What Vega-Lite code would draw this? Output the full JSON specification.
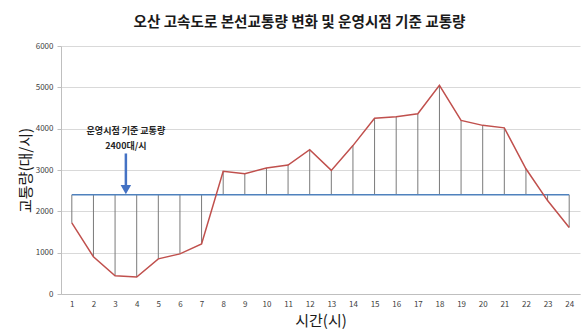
{
  "$schema": "https://vega.github.io/schema/vega-lite/v6.json",
  "width": 519,
  "height": 248,
  "autosize": {"type": "none"},
  "padding": {"left": 61, "top": 46, "right": 7, "bottom": 38},
  "background": "white",
  "title": {
    "text": "오산 고속도로 본선교통량 변화 및 운영시점 기준 교통량",
    "font": "Noto Sans CJK KR",
    "fontSize": 14.6,
    "fontWeight": "bold",
    "color": "#1a1a1a",
    "anchor": "middle",
    "dx": -21,
    "offset": 12
  },
  "config": {
    "font": "Noto Sans CJK KR",
    "view": {"stroke": null},
    "axis": {"labelOverlap": false, "labelFlush": false}
  },
  "datasets": {
    "traffic": [
      {"hour": 1, "volume": 1720},
      {"hour": 2, "volume": 900},
      {"hour": 3, "volume": 440},
      {"hour": 4, "volume": 410},
      {"hour": 5, "volume": 850},
      {"hour": 6, "volume": 970},
      {"hour": 7, "volume": 1210},
      {"hour": 8, "volume": 2970},
      {"hour": 9, "volume": 2910},
      {"hour": 10, "volume": 3050},
      {"hour": 11, "volume": 3120},
      {"hour": 12, "volume": 3490},
      {"hour": 13, "volume": 2990},
      {"hour": 14, "volume": 3590},
      {"hour": 15, "volume": 4250},
      {"hour": 16, "volume": 4290},
      {"hour": 17, "volume": 4360},
      {"hour": 18, "volume": 5050},
      {"hour": 19, "volume": 4200},
      {"hour": 20, "volume": 4080},
      {"hour": 21, "volume": 4020},
      {"hour": 22, "volume": 3030},
      {"hour": 23, "volume": 2260},
      {"hour": 24, "volume": 1610}
    ],
    "baseline": [
      {"start": 1, "end": 24, "level": 2400}
    ],
    "note": [
      {"hour": 3.5, "level": 2400, "head": 2525, "tail": 3400, "line1": 3950, "line2": 3570, "label1": "운영시점 기준 교통량", "label2": "2400대/시"}
    ]
  },
  "layer": [
    {
      "data": {"name": "traffic"},
      "mark": {"type": "rule", "color": "#7a7a7a", "strokeWidth": 1},
      "encoding": {
        "x": {
          "field": "hour",
          "type": "quantitative",
          "scale": {"domain": [0.5, 24.5], "nice": false, "zero": false},
          "axis": {
            "title": "시간(시)",
            "titleFontSize": 15,
            "titleFontWeight": "normal",
            "titleColor": "#1a1a1a",
            "titlePadding": 5,
            "values": [1,2,3,4,5,6,7,8,9,10,11,12,13,14,15,16,17,18,19,20,21,22,23,24],
            "tickCount": 30,
            "format": "d",
            "labelOverlap": false,
            "labelFlush": false,
            "labelSeparation": 0,
            "labelFontSize": 8,
            "labelColor": "#404040",
            "labelPadding": 6,
            "ticks": false,
            "grid": false,
            "domainColor": "#bfbfbf"
          }
        },
        "y": {
          "field": "volume",
          "type": "quantitative",
          "scale": {"domain": [0, 6000], "nice": false},
          "axis": {
            "title": "교통량(대/시)",
            "titleFontSize": 15,
            "titleFontWeight": "normal",
            "titleColor": "#1a1a1a",
            "titlePadding": 2,
            "values": [0, 1000, 2000, 3000, 4000, 5000, 6000],
            "tickCount": 10,
            "format": "d",
            "labelOverlap": false,
            "labelFlush": false,
            "labelFontSize": 8,
            "labelColor": "#404040",
            "labelPadding": 4,
            "tickColor": "#bfbfbf",
            "tickSize": 4,
            "gridColor": "#d9d9d9",
            "domainColor": "#bfbfbf"
          }
        },
        "y2": {"datum": 2400}
      }
    },
    {
      "data": {"name": "baseline"},
      "mark": {"type": "rule", "color": "#4f81bd", "strokeWidth": 1.5},
      "encoding": {
        "x": {"field": "start", "type": "quantitative"},
        "x2": {"field": "end"},
        "y": {"field": "level", "type": "quantitative"}
      }
    },
    {
      "data": {"name": "traffic"},
      "mark": {"type": "line", "color": "#c0504d", "strokeWidth": 1.5},
      "encoding": {
        "x": {"field": "hour", "type": "quantitative"},
        "y": {"field": "volume", "type": "quantitative"}
      }
    },
    {
      "data": {"name": "note"},
      "mark": {"type": "rule", "color": "#4472c4", "strokeWidth": 2.5},
      "encoding": {
        "x": {"field": "hour", "type": "quantitative"},
        "y": {"field": "tail", "type": "quantitative"},
        "y2": {"field": "head"}
      }
    },
    {
      "data": {"name": "note"},
      "mark": {"type": "point", "shape": "triangle-down", "filled": true, "color": "#4472c4", "size": 110, "opacity": 1},
      "encoding": {
        "x": {"field": "hour", "type": "quantitative"},
        "y": {"field": "head", "type": "quantitative"}
      }
    },
    {
      "data": {"name": "note"},
      "mark": {"type": "text", "fontSize": 9, "fontWeight": "bold", "color": "#262626", "baseline": "middle", "align": "center"},
      "encoding": {
        "x": {"field": "hour", "type": "quantitative"},
        "y": {"field": "line1", "type": "quantitative"},
        "text": {"field": "label1"}
      }
    },
    {
      "data": {"name": "note"},
      "mark": {"type": "text", "fontSize": 9, "fontWeight": "bold", "color": "#262626", "baseline": "middle", "align": "center"},
      "encoding": {
        "x": {"field": "hour", "type": "quantitative"},
        "y": {"field": "line2", "type": "quantitative"},
        "text": {"field": "label2"}
      }
    }
  ]
}
